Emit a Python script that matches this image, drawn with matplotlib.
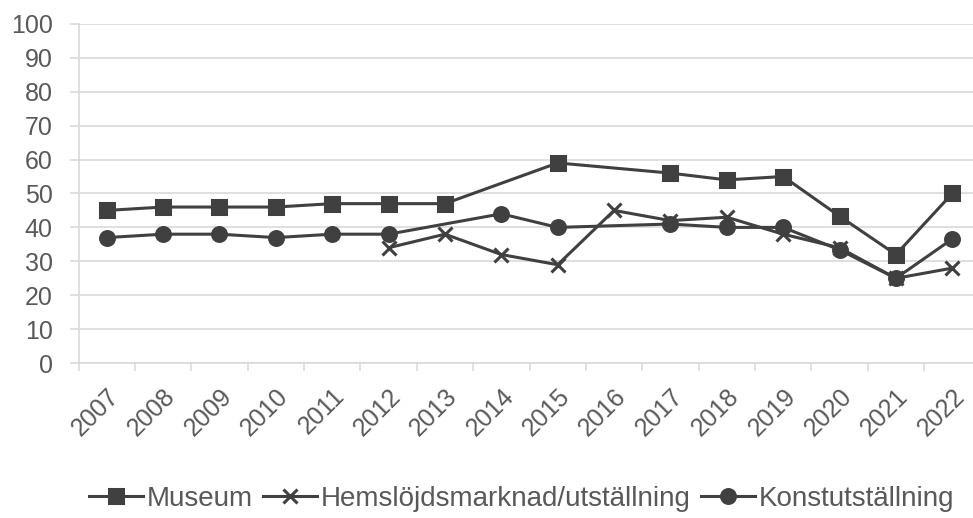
import matplotlib
matplotlib.use("Agg")
import matplotlib.pyplot as plt
import numpy as np

years = [str(y) for y in range(2007, 2023)]
museum = [45, 46, 46, 46, 47, 47, 47, np.nan, 59, np.nan, 56, 54, 55, 43.3, 32, 50]
hemslojd = [np.nan, np.nan, np.nan, np.nan, np.nan, 34, 38, 32, 29, 45, 42, 43, 38, 34, 25, 28]
konst = [37, 38, 38, 37, 38, 38, np.nan, 44, 40, np.nan, 41, 40, 40, 33.4, 25, 36.6]

series = [
    ("Museum", museum, "s"),
    ("Hemslöjdsmarknad/utställning", hemslojd, "x"),
    ("Konstutställning", konst, "o"),
]

plt.rcParams["font.family"] = ["Liberation Sans", "DejaVu Sans"]
LINE = "#404040"
GRID = "#d9d9d9"
TXT = "#595959"

fig = plt.figure(figsize=(9.73, 5.18), dpi=100)
ax = fig.add_axes([0.0807, 0.299, 0.927, 0.655])

x = np.arange(len(years))
for name, vals, mk in series:
    v = np.array(vals, dtype=float)
    ok = ~np.isnan(v)
    ms = {"s": 9.5, "x": 10, "o": 10}[mk]
    ax.plot(x[ok], v[ok], color=LINE, lw=2.2, marker=mk, ms=ms, mew=2.2,
            label=name, clip_on=False)

ax.set_ylim(0, 100)
ax.set_yticks(range(0, 101, 10))
ax.set_xlim(-0.5, len(years) - 0.5)
ax.set_xticks(x)
ax.set_xticklabels(years, rotation=45, ha="right", va="top", rotation_mode="anchor")
ax.set_xticks(np.arange(-0.5, len(years)), minor=True)

ax.grid(axis="y", color=GRID, lw=1.2)
ax.set_axisbelow(True)
for s in ("top", "right"):
    ax.spines[s].set_visible(False)
ax.spines["left"].set_color(GRID)
ax.spines["bottom"].set_color(GRID)
ax.spines["left"].set_linewidth(1.2)
ax.spines["bottom"].set_linewidth(1.2)
ax.tick_params(axis="y", length=6.5, color=GRID, width=1.2, labelsize=18,
               labelcolor=TXT, pad=12)
ax.tick_params(axis="x", which="major", length=0, labelsize=18, labelcolor=TXT, pad=15)
ax.tick_params(axis="x", which="minor", length=6, color=GRID, width=1.2)

leg = fig.legend(loc="center", bbox_to_anchor=(0.536, 0.037), ncol=3, frameon=False,
                 fontsize=20, handlelength=1.95, handletextpad=0.15, columnspacing=0.35,
                 labelcolor=TXT)

fig.savefig("out.png", dpi=100)
